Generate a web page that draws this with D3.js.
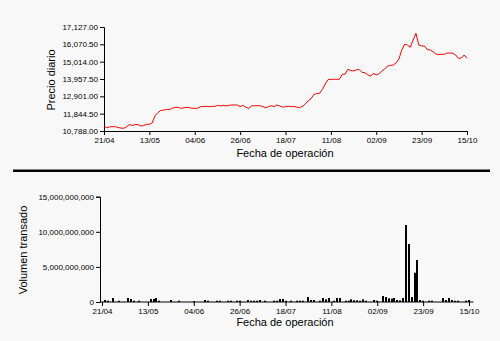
<!DOCTYPE html>
<html><head><meta charset="utf-8">
<script src="https://cdn.jsdelivr.net/npm/d3@7"></script>
<style>
body{margin:0;background:#f8f8f8;}
svg{display:block;}
text{font-family:"Liberation Sans",Arial,sans-serif;fill:#000;}
</style></head>
<body>
<svg id="c" width="500" height="341"></svg>
<script>
const tickLabels = ["21/04","13/05","04/06","26/06","18/07","11/08","02/09","23/09","15/10"];
const tickIndex = [0,16,32,48,64,80,96,112,128];
const priceTicks = [10788.00,11844.50,12901.00,13957.50,15014.00,16070.50,17127.00];
const volumeTicks = [0,5000000000,10000000000,15000000000];
const prices = [
11093,10983,11044,11050,11050,11001,10965,10953,11050,11184,
11123,11184,11172,11093,11123,11196,11196,11276,11721,11903,
12037,12068,12098,12086,12172,12232,12232,12178,12190,12232,
12220,12172,12172,12172,12269,12281,12293,12269,12293,12281,
12354,12312,12354,12312,12354,12373,12373,12373,12269,12354,
12239,12159,12312,12330,12330,12330,12281,12202,12281,12324,
12281,12373,12312,12239,12275,12293,12269,12287,12239,12220,
12293,12434,12629,12751,13013,13074,13086,13317,13653,13915,
13939,13939,13939,13939,14244,14250,14555,14475,14445,14518,
14536,14360,14341,14213,14140,14293,14213,14274,14445,14567,
14750,14780,14811,14933,15176,15725,16072,16030,15890,16334,
16743,16030,15969,15969,15755,15725,15633,15481,15445,15463,
15463,15542,15542,15524,15420,15207,15237,15420,15219];
const volumes = [
0,285000000,185000000,0,570000000,0,185000000,0,0,570000000,
427000000,185000000,0,185000000,0,0,0,430000000,430000000,570000000,
185000000,0,0,0,285000000,0,0,185000000,0,0,
0,0,150000000,0,0,0,285000000,185000000,0,0,
185000000,185000000,0,0,185000000,185000000,0,185000000,185000000,0,
0,285000000,185000000,185000000,185000000,285000000,0,185000000,0,0,
185000000,185000000,427000000,427000000,185000000,0,185000000,0,185000000,185000000,
185000000,0,712000000,285000000,285000000,0,185000000,570000000,385000000,570000000,
0,185000000,570000000,570000000,0,185000000,185000000,385000000,242000000,242000000,
185000000,385000000,185000000,0,0,285000000,185000000,0,855000000,712000000,
527000000,470000000,570000000,285000000,242000000,570000000,10970000000,8260000000,712000000,4170000000,
5980000000,285000000,185000000,0,185000000,185000000,0,0,0,570000000,
285000000,570000000,285000000,185000000,185000000,0,0,185000000,285000000];

const svg = d3.select("#c");
const fmt2 = d3.format(",.2f");
const fmt0 = d3.format(",");
const idx = d3.range(prices.length);

// ---------- top chart ----------
const x1 = d3.scaleLinear().domain([0, prices.length-1]).range([104, 467]);
const y1 = d3.scaleLinear().domain([10788, 17127]).range([131, 27]);
const g1 = svg.append("g");
g1.append("g").attr("transform","translate(0,131)")
  .call(d3.axisBottom(x1).tickValues(tickIndex).tickFormat((d,i)=>tickLabels[i]).tickSize(4).tickPadding(2));
g1.append("g").attr("transform","translate(104,0)")
  .call(d3.axisLeft(y1).tickValues(priceTicks).tickFormat(fmt2).tickSize(4).tickPadding(2));
g1.append("path").datum(prices)
  .attr("fill","none").attr("stroke","#ff0000").attr("stroke-width",1)
  .attr("d", d3.line().x((d,i)=>x1(i)).y(d=>y1(d)));
g1.append("text").attr("x",285).attr("y",157).attr("text-anchor","middle").attr("font-size",11).text("Fecha de operación");
g1.append("text").attr("transform","translate(55,80) rotate(-90)").attr("text-anchor","middle").attr("font-size",11).text("Precio diario");

// separator
svg.append("rect").attr("x",13).attr("y",169.5).attr("width",477).attr("height",2.5).attr("fill","#000");

// ---------- bottom chart ----------
const x2 = d3.scaleLinear().domain([0, volumes.length-1]).range([102, 469]);
const y2 = d3.scaleLinear().domain([0, 15000000000]).range([302, 196.7]);
const g2 = svg.append("g");
g2.selectAll("rect.bar").data(volumes).join("rect").attr("class","bar")
  .attr("x",(d,i)=>Math.round(x2(i))-1).attr("width",2)
  .attr("y",d=>y2(d)).attr("height",d=>302-y2(d)).attr("fill","#000");
const xa2 = g2.append("g").attr("transform","translate(0,302)")
  .call(d3.axisBottom(x2).tickValues(tickIndex).tickFormat((d,i)=>tickLabels[i]).tickSize(4).tickPadding(2));
xa2.select(".domain").attr("d","M100.5,0H473.5");
g2.append("g").attr("transform","translate(100,0)")
  .call(d3.axisLeft(y2).tickValues(volumeTicks).tickFormat(fmt0).tickSize(4).tickPadding(2));
g2.append("text").attr("x",285).attr("y",326).attr("text-anchor","middle").attr("font-size",11).text("Fecha de operación");
g2.append("text").attr("transform","translate(27,250) rotate(-90)").attr("text-anchor","middle").attr("font-size",11).text("Volumen transado");

svg.selectAll(".tick text").attr("font-size",8).attr("font-family","'Liberation Sans',Arial,sans-serif").attr("fill","#000");
svg.selectAll(".domain, .tick line").attr("stroke","#000");
</script>
</body></html>
